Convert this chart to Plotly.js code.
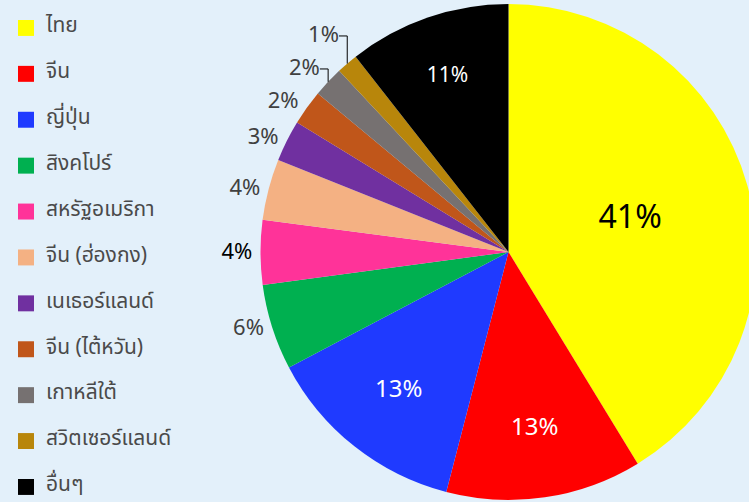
<!DOCTYPE html>
<html>
<head>
<meta charset="utf-8">
<script src="https://cdn.plot.ly/plotly-3.0.1.min.js"></script>
<style>
html,body{margin:0;padding:0;background:#e3f0fa;overflow:hidden;width:749px;height:502px;}
#chart{width:757px;height:502px;}
</style>
</head>
<body>
<div id="chart"></div>
<script>
var categories = ['ไทย','จีน','ญี่ปุ่น','สิงคโปร์','สหรัฐอเมริกา','จีน (ฮ่องกง)','เนเธอร์แลนด์','จีน (ไต้หวัน)','เกาหลีใต้','สวิตเซอร์แลนด์','อื่นๆ'];
var shares = [41.4, 12.8, 13.3, 5.6, 4.2, 4.0, 2.7, 2.3, 2.0, 1.4, 10.6];
var percentLabels = ['41%','13%','13%','6%','4%','4%','3%','2%','2%','1%','11%'];
var sliceColors = ['#ffff00','#ff0000','#1f3aff','#00b050','#ff3399','#f4b183','#7030a0','#c0561a','#767171','#b8860b','#000000'];
var labelColors = ['#000000','#ffffff','#ffffff','#404040','#000000','#404040','#404040','#404040','#404040','#404040','#ffffff'];
var labelSizes = [32,24,24,22,22,22,22,22,22,22,21];
var labelPositions = ['inside','inside','inside','outside','outside','outside','outside','outside','outside','outside','inside'];

var FONT = "'Noto Sans Thai', 'Noto Sans', sans-serif";
var legendNames = categories.map(function(c){
  return '\u00a0<br><span style="font-size:21px">' + c + '</span><br>\u00a0';
});

var W = 757, H = 502;
var trace = {
  type: 'pie',
  labels: legendNames,
  values: shares,
  text: percentLabels,
  textinfo: 'text',
  hoverinfo: 'skip',
  sort: false,
  direction: 'clockwise',
  rotation: 0,
  marker: {colors: sliceColors, line: {width: 0}},
  textposition: labelPositions,
  insidetextorientation: 'horizontal',
  textfont: {family: FONT, color: labelColors, size: labelSizes},
  outsidetextfont: {family: FONT, color: labelColors, size: labelSizes},
  domain: {x: [260 / W, 1], y: [2 / H, 498 / H]}
};

var layout = {
  width: W,
  height: H,
  margin: {l: 0, r: 0, t: 0, b: 0},
  paper_bgcolor: '#e3f0fa',
  plot_bgcolor: '#e3f0fa',
  showlegend: true,
  legend: {
    x: 6 / W, xanchor: 'left',
    y: 1, yanchor: 'top',
    bgcolor: 'rgba(0,0,0,0)',
    font: {family: FONT, size: 11, color: '#4a4a4a'},
    traceorder: 'normal'
  },
  font: {family: FONT}
};

Plotly.newPlot('chart', [trace], layout, {displayModeBar: false, staticPlot: true}).then(function(){
  document.querySelectorAll('.legendpoints path').forEach(function(p){
    var t = p.getAttribute('transform') || '';
    p.setAttribute('transform', t + ' scale(1.33)');
  });
});
</script>
</body>
</html>
